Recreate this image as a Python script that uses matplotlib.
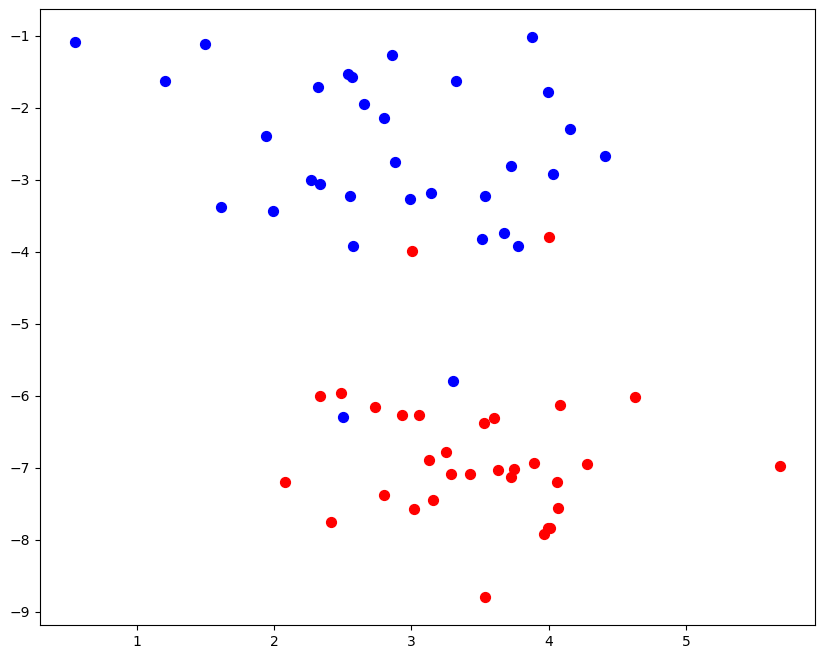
import matplotlib
matplotlib.use("Agg")
import matplotlib.pyplot as plt

blue_x = [0.552, 1.208, 1.499, 1.616, 1.944, 1.995, 2.270, 2.321, 2.332, 2.542,
          2.566, 2.554, 2.573, 2.656, 2.804, 2.862, 2.879, 2.993, 3.144, 3.327,
          3.535, 3.511, 3.676, 3.727, 3.778, 3.880, 3.994, 4.028, 4.152, 4.407,
          3.302, 2.500]
blue_y = [-1.083, -1.625, -1.111, -3.375, -2.389, -3.431, -3.000, -1.704, -3.060, -1.524,
          -1.569, -3.222, -3.921, -1.949, -2.139, -1.264, -2.754, -3.264, -3.176, -1.621,
          -3.218, -3.815, -3.736, -2.810, -3.917, -1.014, -1.774, -2.913, -2.296, -2.667,
          -5.796, -6.296]

red_x = [3.001, 4.004, 2.337, 2.491, 2.736, 2.935, 3.057, 3.531, 3.601, 4.085,
         4.626, 3.251, 3.125, 3.287, 3.429, 3.628, 3.746, 3.722, 3.895, 4.281,
         5.683, 2.080, 4.058, 2.804, 3.159, 3.020, 4.067, 2.413, 4.012, 3.992,
         3.968, 3.538]
red_y = [-3.990, -3.792, -6.000, -5.958, -6.157, -6.260, -6.268, -6.371, -6.306, -6.129,
         -6.014, -6.774, -6.893, -7.083, -7.088, -7.024, -7.018, -7.125, -6.931, -6.949,
         -6.972, -7.199, -7.199, -7.375, -7.440, -7.574, -7.556, -7.750, -7.829, -7.838,
         -7.917, -8.792]

fig = plt.figure(figsize=(8.25, 6.59), dpi=100)
ax = fig.add_axes([40/825, 34/659, 775/825, 616/659])
ax.scatter(blue_x, blue_y, c="blue", s=50)
ax.scatter(red_x, red_y, c="red", s=50)
fig.savefig("out.png", dpi=100)
